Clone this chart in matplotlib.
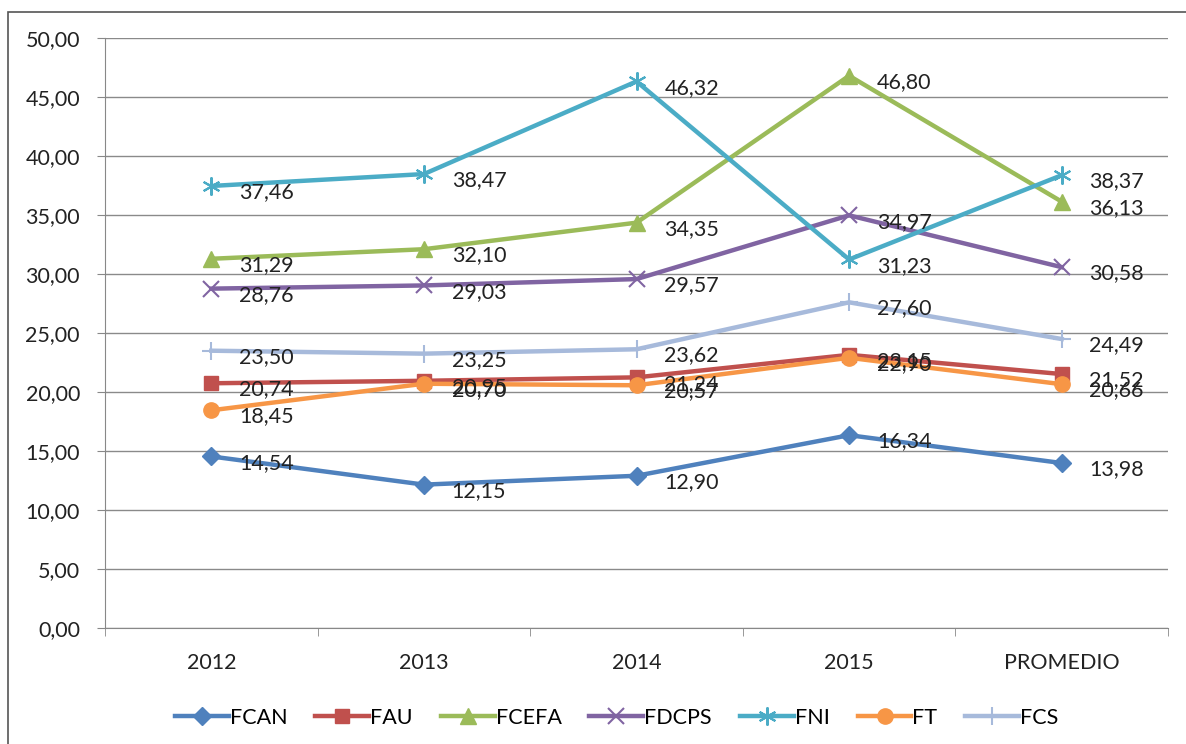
import matplotlib
matplotlib.use("Agg")
import matplotlib.pyplot as plt
from matplotlib.patches import Rectangle

categories = ["2012", "2013", "2014", "2015", "PROMEDIO"]
fcan = [14.54, 12.15, 12.90, 16.34, 13.98]
fau = [20.74, 20.95, 21.24, 23.15, 21.52]
fcefa = [31.29, 32.10, 34.35, 46.80, 36.13]
fdcps = [28.76, 29.03, 29.57, 34.97, 30.58]
fni = [37.46, 38.47, 46.32, 31.23, 38.37]
ft = [18.45, 20.70, 20.57, 22.90, 20.66]
fcs = [23.50, 23.25, 23.62, 27.60, 24.49]
yticks = [0, 5, 10, 15, 20, 25, 30, 35, 40, 45, 50]

series = [
    ("FCAN", fcan, "#4F81BD", "D", 9),
    ("FAU", fau, "#C0504D", "s", 10),
    ("FCEFA", fcefa, "#9BBB59", "^", 11),
    ("FDCPS", fdcps, "#8064A2", "x", 11),
    ("FNI", fni, "#4BACC6", (6, 2, 0), 13),
    ("FT", ft, "#F79646", "o", 11),
    ("FCS", fcs, "#A7BADB", "+", 13),
]

FS = 15.5
plt.rcParams['font.family'] = ['Lato', 'DejaVu Sans']
fig = plt.figure(figsize=(11.86, 7.44), dpi=100)
ax = fig.add_axes([105/1186, 1 - 628/744, (1168-105)/1186, (628-38)/744])

fig.patches.append(Rectangle((8/1186, -0.1), 1.2, 1 - 12/744 + 0.1, transform=fig.transFigure,
                             fill=False, edgecolor="#555555", linewidth=1.2))

x = list(range(len(categories)))
for name, vals, col, mk, ms in series:
    ax.plot(x, vals, color=col, linewidth=3.2, marker=mk, markersize=ms,
            markeredgewidth=1.5 if mk in ("x", "+") or isinstance(mk, tuple) else 1,
            markeredgecolor=col, markerfacecolor=col, label=name, zorder=3)
    for xi, v in zip(x, vals):
        ax.annotate(f"{v:.2f}".replace(".", ","), (xi, v), xytext=(20, -4.5),
                    textcoords="offset points", ha="left", va="center",
                    fontsize=FS, color="#222222", zorder=5)

ax.set_xlim(-0.5, 4.5)
ax.set_ylim(0, 50)
ax.set_yticks(yticks)
ax.set_yticklabels([f"{v:.2f}".replace(".", ",") for v in yticks], fontsize=FS, color="#222222")
ax.set_xticks(x)
ax.set_xticklabels(categories, fontsize=FS, color="#222222")
ax.set_xticks([-0.5, 0.5, 1.5, 2.5, 3.5, 4.5], minor=True)
ax.tick_params(axis="x", which="major", length=0, pad=18)
ax.tick_params(axis="x", which="minor", length=6, color="#888888")
ax.tick_params(axis="y", length=6, color="#888888", pad=12)
ax.grid(axis="y", color="#8a8a8a", linewidth=1)
ax.set_axisbelow(True)
for s in ("top", "right"):
    ax.spines[s].set_visible(False)
for s in ("left", "bottom"):
    ax.spines[s].set_color("#888888")

leg = fig.legend(loc="center", bbox_to_anchor=(0.52, 1 - 718/744), ncol=7, frameon=False,
                 fontsize=FS, handlelength=2.5, columnspacing=1.3, handletextpad=0.05)

fig.savefig("out.png", dpi=100)
